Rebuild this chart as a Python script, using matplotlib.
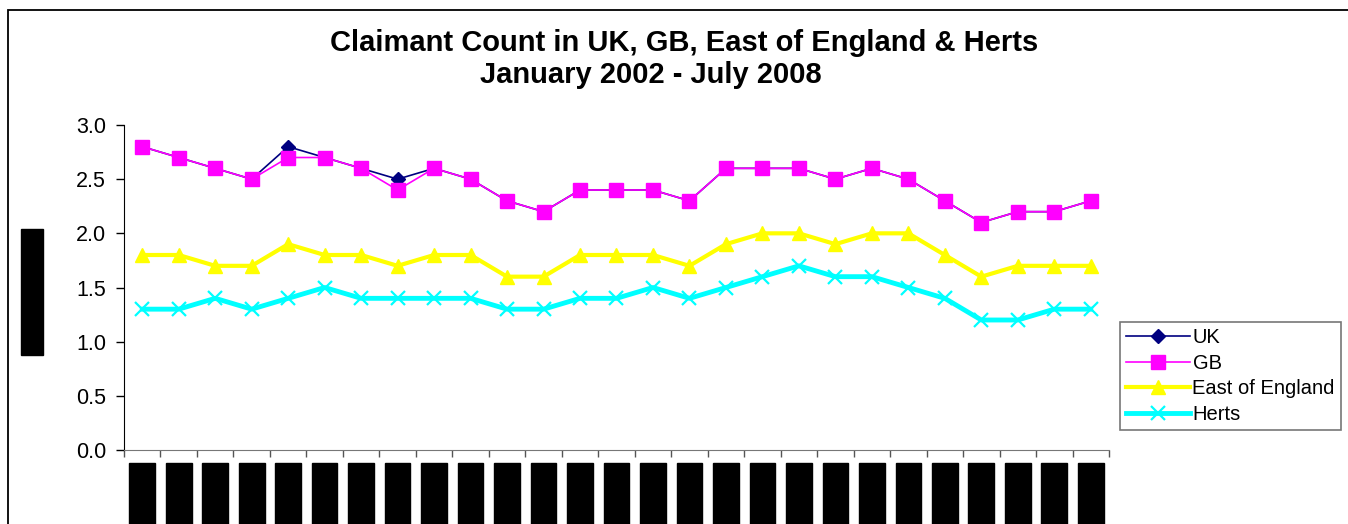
import numpy as np
import matplotlib
matplotlib.use("Agg")
from matplotlib import pyplot as plt
from matplotlib.patches import Rectangle

plt.rcParams['font.family'] = ['Liberation Sans', 'DejaVu Sans']

# Claimant count rate (%), quarterly Jan 2002 - Jul 2008
months = ['Jan', 'Apr', 'Jul', 'Oct']
periods = [f"{m} {y}" for y in range(2002, 2009) for m in months][:27]

uk = [2.8, 2.7, 2.6, 2.5, 2.8, 2.7, 2.6, 2.5, 2.6, 2.5, 2.3, 2.2, 2.4, 2.4,
      2.4, 2.3, 2.6, 2.6, 2.6, 2.5, 2.6, 2.5, 2.3, 2.1, 2.2, 2.2, 2.3]
gb = [2.8, 2.7, 2.6, 2.5, 2.7, 2.7, 2.6, 2.4, 2.6, 2.5, 2.3, 2.2, 2.4, 2.4,
      2.4, 2.3, 2.6, 2.6, 2.6, 2.5, 2.6, 2.5, 2.3, 2.1, 2.2, 2.2, 2.3]
east = [1.8, 1.8, 1.7, 1.7, 1.9, 1.8, 1.8, 1.7, 1.8, 1.8, 1.6, 1.6, 1.8, 1.8,
        1.8, 1.7, 1.9, 2.0, 2.0, 1.9, 2.0, 2.0, 1.8, 1.6, 1.7, 1.7, 1.7]
herts = [1.3, 1.3, 1.4, 1.3, 1.4, 1.5, 1.4, 1.4, 1.4, 1.4, 1.3, 1.3, 1.4, 1.4,
         1.5, 1.4, 1.5, 1.6, 1.7, 1.6, 1.6, 1.5, 1.4, 1.2, 1.2, 1.3, 1.3]

W, H = 1348, 524
fig = plt.figure(figsize=(W / 100, H / 100), dpi=100)

# outer chart frame (only top/left visible)
fig.patches.append(Rectangle((8 / W, -0.1), 1.2, (H - 10) / H + 0.1,
                             transform=fig.transFigure, fill=False,
                             lw=1.3, ec='black'))

ax = fig.add_axes([124 / W, 1 - 450 / H, (1109 - 124) / W, (450 - 125) / H])
x = np.arange(len(periods))

ax.plot(x, uk, color='#000080', lw=1.2, marker='D', ms=7, label='UK', zorder=3)
ax.plot(x, gb, color='#FF00FF', lw=1.2, marker='s', ms=9.5, label='GB', zorder=4)
ax.plot(x, east, color='#FFFF00', lw=3, marker='^', ms=10, label='East of England', zorder=2)
ax.plot(x, herts, color='#00FFFF', lw=3.5, marker='x', ms=10, mew=1.6, label='Herts', zorder=2)

ax.set_xlim(-0.5, len(periods) - 0.5)
ax.set_ylim(0, 3)
yt = np.arange(0, 3.01, 0.5)
ax.set_yticks(yt)
ax.set_yticklabels([f"{v:.1f}" for v in yt], fontsize=15.5)
ax.tick_params(axis='y', length=6, width=1, pad=7)

ax.set_xticks(x)
ax.set_xticklabels(periods, rotation=90, fontsize=12, va='top',
                   bbox=dict(fc='black', ec='black', pad=3.8))
ax.set_xticks(np.arange(-0.5, len(periods)), minor=True)
ax.tick_params(axis='x', which='major', length=0, pad=13)
ax.tick_params(axis='x', which='minor', length=5, width=1, color='#555555')

for s in ['top', 'right']:
    ax.spines[s].set_visible(False)
ax.spines['bottom'].set_color('#777777')

fig.text(32 / W, 1 - 292 / H, 'Claimant rate %', rotation=90, fontsize=12,
         ha='center', va='center', bbox=dict(fc='black', ec='black', pad=2.8))

fig.text(684 / W, 1 - 51 / H, 'Claimant Count in UK, GB, East of England & Herts',
         ha='center', va='baseline', fontsize=21, fontweight='bold')
fig.text(651 / W, 1 - 83 / H, 'January 2002 - July 2008',
         ha='center', va='baseline', fontsize=21, fontweight='bold')

leg = fig.legend(loc='upper left', bbox_to_anchor=(1120 / W, 1 - 322 / H),
                 borderaxespad=0, fontsize=14.5, handlelength=3.2,
                 handletextpad=0.1, labelspacing=0.33, borderpad=0.3,
                 fancybox=False, frameon=True, edgecolor='#555555')
leg.get_frame().set_linewidth(1.2)

fig.savefig('out.png', dpi=100)
